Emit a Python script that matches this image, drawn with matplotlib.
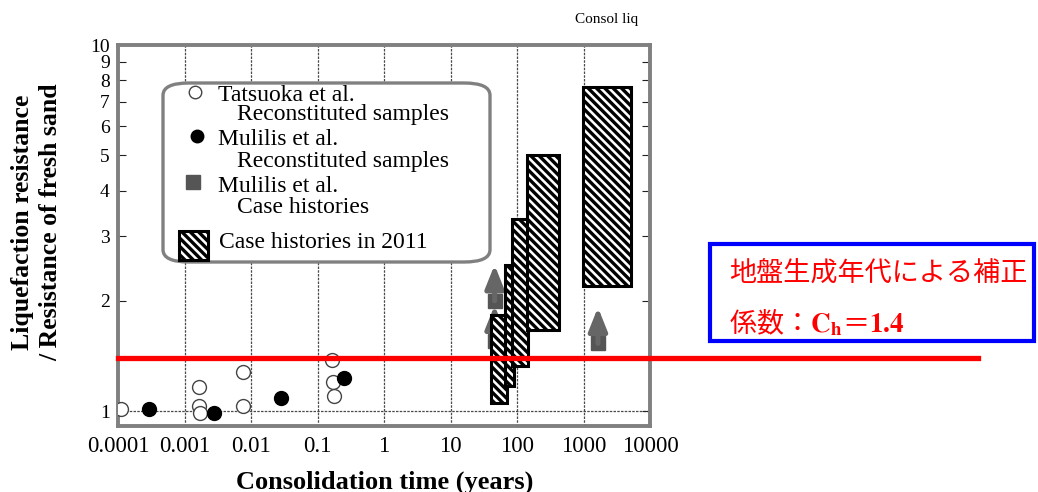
import numpy as np
import matplotlib.pyplot as plt
from matplotlib.patches import Rectangle, FancyBboxPatch
from matplotlib.lines import Line2D
from matplotlib.transforms import ScaledTranslation

# consolidation time (years) and strength ratio of each test
tatsuoka_t = [0.00011, 0.00164, 0.00164, 0.0017, 0.0075, 0.0075, 0.167, 0.173, 0.177]
tatsuoka_r = [1.01, 1.16, 1.03, 0.99, 1.28, 1.03, 1.38, 1.20, 1.10]
mulilis_t = [0.00029, 0.0028, 0.028, 0.253]
mulilis_r = [1.01, 0.99, 1.086, 1.23]
mulilis_case_t = [46, 46, 1650]
mulilis_case_r = [2.0, 1.55, 1.53]

# case histories in 2011: ranges of age and ratio
case_t0 = [40, 66, 84, 141, 980]
case_t1 = [71, 90, 146, 428, 5100]
case_r0 = [1.05, 1.17, 1.33, 1.66, 2.2]
case_r1 = [1.83, 2.5, 3.35, 5.0, 7.7]

ch = 1.4

xticks = [1e-4, 1e-3, 1e-2, 1e-1, 1, 10, 100, 1000, 10000]
xticklabels = ['0.0001', '0.001', '0.01', '0.1', '1', '10', '100', '1000', '10000']
yticks = [1, 2, 3, 4, 5, 6, 7, 8, 9, 10]
yticklabels = ['1', '2', '3', '4', '5', '6', '7', '8', '9', '10']

plt.rcParams['font.family'] = ['Liberation Serif']
plt.rcParams['hatch.linewidth'] = 2.4

W, H = 1038, 492
fig = plt.figure(figsize=(W / 100, H / 100), dpi=100)
ax = fig.add_axes([118 / W, 1 - 426 / H, 532 / W, 381 / H])


def fp(x, y):
    # pixel position (from top left) -> figure fraction
    return x / W, 1 - y / H


ax.set_xscale('log')
ax.set_yscale('log')
ax.set_xlim(1e-4, 1e4)
ax.set_ylim(0.91, 10)

# grid: decades vertical, a single line at ratio 1
grid_kw = dict(color='#4a4a4a', lw=0.9, ls=(0, (2, 1)), zorder=0)
for t in xticks[1:-1]:
    ax.axvline(t, **grid_kw)
ax.axhline(1, **grid_kw)

ax.plot(tatsuoka_t, tatsuoka_r, 'o', ms=10, mfc='white', mec='#444444', mew=1.0, zorder=3)
ax.plot(mulilis_t, mulilis_r, 'o', ms=10, color='black', zorder=3)

# Mulilis case histories: square with an upward arrow (lower bound)
ax.plot(mulilis_case_t, mulilis_case_r, 's', ms=10.5, color='#555555', zorder=2)
up = ax.transData + ScaledTranslation(0, 0.36, fig.dpi_scale_trans)
for t, r in zip(mulilis_case_t, mulilis_case_r):
    ax.annotate('', xy=(t, r), xycoords=up, xytext=(t, r), textcoords='data',
                arrowprops=dict(arrowstyle='-|>,head_length=0.7,head_width=0.28',
                                mutation_scale=20, color='#666666', lw=3.6,
                                shrinkA=0, shrinkB=0), zorder=2)

# 2011 case histories as hatched boxes
hatch = '\\' * 4
for t0, t1, r0, r1 in zip(case_t0, case_t1, case_r0, case_r1):
    ax.bar(t0, r1 - r0, width=t1 - t0, bottom=r0, align='edge',
           facecolor='white', edgecolor='black', lw=2.2, hatch=hatch, zorder=4)

# correction line for Ch
ax.axhline(ch, xmin=0, xmax=(978 - 118) / 532, color='red', lw=3.8, clip_on=False, zorder=10)

ax.set_xticks(xticks)
ax.set_xticklabels(xticklabels)
ax.set_yticks(yticks)
ax.set_yticklabels(yticklabels)
ax.yaxis.set_minor_locator(plt.NullLocator())
ax.tick_params(axis='x', which='major', length=0, labelsize=16.5, pad=7)
ax.tick_params(axis='x', which='minor', direction='in', length=6, width=0.8,
               top=True, bottom=True, color='#222222')
ax.tick_params(axis='y', which='major', direction='in', length=6, width=0.8,
               left=True, right=True, labelsize=14, pad=6, color='#222222')
for s in ax.spines.values():
    s.set_color('#808080')
    s.set_linewidth(2.8)

fig.text(*fp(385, 482), 'Consolidation time (years)', ha='center', va='center',
         fontsize=19, fontweight='bold')
fig.text(*fp(37, 222), 'Liquefaction resistance\n/ Resistance of fresh sand', rotation=90,
         ha='center', va='center', fontsize=18.5, fontweight='bold', linespacing=1.3)
fig.text(*fp(607, 20), 'Consol liq', ha='center', va='center', fontsize=11)

# legend box
lx0, ly0 = fp(163, 262)
lx1, ly1 = fp(490, 83)
fig.add_artist(FancyBboxPatch((lx0, ly0), lx1 - lx0, ly1 - ly0,
                              boxstyle='round,pad=0,rounding_size=0.025',
                              transform=fig.transFigure, facecolor='white',
                              edgecolor='#808080', lw=2.4, zorder=5))
fig.add_artist(Line2D([fp(195, 92)[0]], [fp(195, 92)[1]], marker='o', ms=9, mfc='white',
                      mec='#444444', mew=1.0, transform=fig.transFigure, zorder=6))
fig.add_artist(Line2D([fp(197, 136)[0]], [fp(197, 136)[1]], marker='o', ms=9, color='black',
                      transform=fig.transFigure, zorder=6))
fig.add_artist(Line2D([fp(193, 182)[0]], [fp(193, 182)[1]], marker='s', ms=10, color='#555555',
                      transform=fig.transFigure, zorder=6))
hx0, hy0 = fp(179, 260)
hx1, hy1 = fp(208, 231)
fig.add_artist(Rectangle((hx0, hy0), hx1 - hx0, hy1 - hy0, transform=fig.transFigure,
                         facecolor='white', edgecolor='black', lw=2.2, hatch=hatch, zorder=6))
legend_lines = [
    (218, 101, 'Tatsuoka et al.'),
    (237, 120, 'Reconstituted samples'),
    (218, 145, 'Mulilis et al.'),
    (237, 167, 'Reconstituted samples'),
    (218, 192, 'Mulilis et al.'),
    (237, 213, 'Case histories'),
    (219, 248, 'Case histories in 2011'),
]
for x, y, s in legend_lines:
    fig.text(*fp(x, y), s, ha='left', va='baseline', fontsize=17, zorder=7)

# note box
bx0, by0 = fp(710, 341)
bx1, by1 = fp(1034, 244)
fig.add_artist(Rectangle((bx0, by0), bx1 - bx0, by1 - by0, transform=fig.transFigure,
                         facecolor='white', edgecolor='blue', lw=3, zorder=8))
fig.text(*fp(729, 273), '地盤生成年代による補正', ha='left', va='center', color='red',
         fontsize=19.5, family=['Noto Sans CJK JP', 'DejaVu Sans'], zorder=9)
fig.text(*fp(729, 323), '係数：$\\mathbf{C_h}$＝$\\mathbf{%.1f}$' % ch, ha='left', va='center',
         color='red', fontsize=19.5, family=['Noto Sans CJK JP', 'DejaVu Sans'],
         math_fontfamily='stix', zorder=9)

fig.savefig('out.png', dpi=100)
